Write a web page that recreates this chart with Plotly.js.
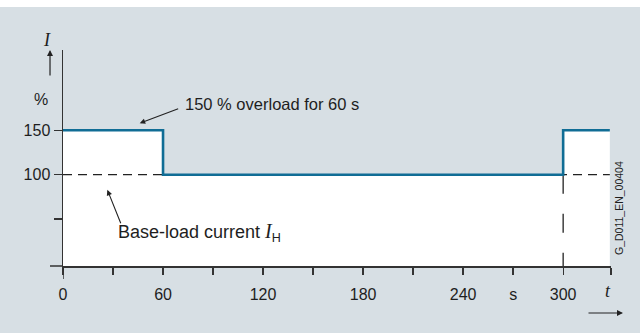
<!DOCTYPE html>
<html>
<head>
<meta charset="utf-8">
<script src="https://cdn.plot.ly/plotly-3.0.1.min.js"></script>
<style>
html,body{margin:0;padding:0;background:#ffffff;}
#chart{width:640px;height:333px;}
</style>
</head>
<body>
<div id="chart"></div>
<script>
// Data
const timeS = [0, 60, 300, 328];          // s
const loadPct = [150, 100, 150, 150];      // % (step, held until next time)
const baseLoad = 100;                      // %
const baseEnd = [0, 328];                  // extent of base-load dashed line
const overloadRestart = 300;               // s
const xTickVals = [0, 30, 60, 90, 120, 150, 180, 210, 240, 270, 300, 328.7];
const xTickText = ['0', '', '60', '', '120', '', '180', '', '240', 's', '300', ''];
const yTickVals = [50, 100, 150];
const yTickText = ['', '100', '150'];

const xRange = [0, 328.7];
const yRange = [-2.8, 240.4];

const blue = '#106d95';
const ink = '#333333';
const txt = '#1e1e1e';
const bg = '#d7dfe4';
const font = 'Liberation Sans, Arial, sans-serif';
const serif = 'Liberation Serif, Times New Roman, serif';

const traces = [
  { // baseline for fill
    x: [timeS[0], timeS[timeS.length - 1]], y: [yRange[0], yRange[0]],
    mode: 'lines', line: {width: 0}, hoverinfo: 'skip', showlegend: false
  },
  { // white area under load curve
    x: timeS, y: loadPct, mode: 'lines', line: {width: 0, shape: 'hv'},
    fill: 'tonexty', fillcolor: '#ffffff', hoverinfo: 'skip', showlegend: false
  },
  { // base-load dashed line
    x: baseEnd, y: [baseLoad, baseLoad], mode: 'lines',
    line: {color: '#222222', width: 1.3, dash: '9px,6px'}, showlegend: false, cliponaxis: false
  },
  { // vertical dashed at 300 s
    x: [overloadRestart, overloadRestart], y: [baseLoad, yRange[0]], mode: 'lines',
    line: {color: '#222222', width: 1.3, dash: '19px,20px'}, showlegend: false
  },
  { // load curve
    x: timeS, y: loadPct, mode: 'lines', line: {color: blue, width: 2.6, shape: 'hv'},
    showlegend: false, cliponaxis: false
  }
];

const layout = {
  width: 640, height: 333,
  margin: {l: 63, r: 29, t: 50, b: 67},
  paper_bgcolor: bg, plot_bgcolor: bg,
  font: {family: font, size: 16, color: txt},
  showlegend: false,
  xaxis: {
    range: xRange, showgrid: false, zeroline: false,
    showline: true, linecolor: ink, linewidth: 1.5,
    ticks: 'outside', ticklen: 7, tickwidth: 1.3, tickcolor: ink,
    tickmode: 'array', tickvals: xTickVals, ticktext: xTickText,
    tickfont: {family: font, size: 16, color: txt}, ticklabelstandoff: 6
  },
  yaxis: {
    range: yRange, showgrid: false, zeroline: false,
    showline: true, linecolor: ink, linewidth: 1.5,
    ticks: 'outside', ticklen: 8, tickwidth: 1.3, tickcolor: ink,
    tickmode: 'array', tickvals: yTickVals, ticktext: yTickText,
    tickfont: {family: font, size: 16, color: txt}, ticklabelstandoff: 0
  },
  shapes: [
    {type: 'rect', xref: 'paper', yref: 'paper', x0: -0.2, x1: 1.2, y0: 1.199, y1: 1.5,
     fillcolor: '#ffffff', line: {width: 0}, layer: 'above'},
    {type: 'line', xref: 'x', yref: 'paper', x0: 0, x1: 0,
     ysizemode: 'pixel', yanchor: 0, y0: 0, y1: -13, line: {color: ink, width: 1.5}},
    {type: 'line', xref: 'paper', yref: 'paper', y0: 0, y1: 0,
     xsizemode: 'pixel', xanchor: 0, x0: -13, x1: 0, line: {color: ink, width: 1.5}}
  ],
  annotations: [
    {x: 0.219, y: 0.752, xref: 'paper', yref: 'paper', text: '150 % overload for 60 s', showarrow: false,
     xanchor: 'left', yanchor: 'middle', font: {size: 16.5, color: txt}},
    {x: 46, y: 158, xref: 'x', yref: 'y', text: '', showarrow: true, arrowhead: 2, arrowsize: 1,
     arrowwidth: 1.1, arrowcolor: '#222', axref: 'pixel', ayref: 'pixel', ax: 40, ay: -15},
    {x: 0.097, y: 0.155, xref: 'paper', yref: 'paper',
     text: 'Base-load current <span style="font-family:Liberation Serif;font-size:20px"><i>I</i></span><sub>H</sub>',
     showarrow: false, xanchor: 'left', yanchor: 'middle', font: {size: 18, color: txt}},
    {x: 26.6, y: 83, xref: 'x', yref: 'y', text: '', showarrow: true, arrowhead: 2, arrowsize: 1,
     arrowwidth: 1.1, arrowcolor: '#222', ax: 14, ay: 35},
    {x: -0.0292, y: 1.046, xref: 'paper', yref: 'paper', text: '<i>I</i>', showarrow: false,
     xanchor: 'center', yanchor: 'middle', font: {family: serif, size: 18, color: txt}},
    {x: -0.0237, y: 1.0, xref: 'paper', yref: 'paper', text: '', showarrow: true, arrowhead: 2, arrowsize: 1,
     arrowwidth: 1.2, arrowcolor: '#222', ax: 0, ay: 27},
    {x: -0.041, y: 0.769, xref: 'paper', yref: 'paper', text: '%', showarrow: false,
     xanchor: 'center', yanchor: 'middle', font: {size: 16, color: txt}},
    {x: 0.9945, y: -0.118, xref: 'paper', yref: 'paper', text: '<i>t</i>', showarrow: false,
     xanchor: 'center', yanchor: 'middle', font: {family: serif, size: 18, color: txt}},
    {x: 1.0219, y: -0.2176, xref: 'paper', yref: 'paper', text: '', showarrow: true, arrowhead: 2, arrowsize: 1,
     arrowwidth: 1.2, arrowcolor: '#222', ax: -36, ay: 0},
    {x: 1.0146, y: 0.2685, xref: 'paper', yref: 'paper', text: 'G_D011_EN_00404', showarrow: false,
     xanchor: 'center', yanchor: 'middle', textangle: -90, font: {size: 10.5, color: txt}}
  ]
};

Plotly.newPlot('chart', traces, layout, {staticPlot: true, displayModeBar: false});
</script>
</body>
</html>
